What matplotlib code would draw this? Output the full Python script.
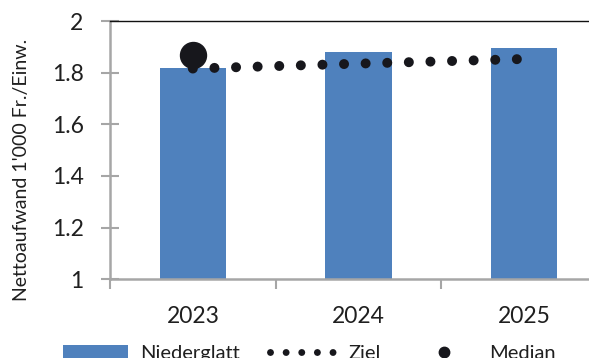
import matplotlib
matplotlib.use("Agg")
import matplotlib.pyplot as plt
from matplotlib.lines import Line2D
from matplotlib.patches import Patch
import numpy as np

# Data
years = ["2023", "2024", "2025"]
niederglatt = [1.818, 1.879, 1.894]
ziel = [1.816, 1.835, 1.853]
median_years = ["2023"]
median_vals = [1.868]
y_ticks = [1, 1.2, 1.4, 1.6, 1.8, 2]
y_tick_labels = ["1", "1.2", "1.4", "1.6", "1.8", "2"]

plt.rcParams["font.family"] = ["Lato", "DejaVu Sans"]

BLUE = "#4F81BD"
DARK = "#17171c"
GREY = "#a6a6a6"
TEXT = "#1f1f1f"

fig = plt.figure(figsize=(5.89, 3.58), dpi=100)
ax = fig.add_axes([110 / 589, 1 - 279.3 / 358, 497 / 589, 258.3 / 358])

x = np.arange(len(years))
ax.bar(x, niederglatt, width=0.4, color=BLUE, zorder=2)

# Target line: round dots along a straight line
ax.plot(x, ziel, color=DARK, lw=7.2, linestyle=(0, (0.001, 2.16)),
        dash_capstyle="round", zorder=4)

# Median marker
mx = [years.index(y) for y in median_years]
ax.plot(mx, median_vals, "o", color=DARK, markersize=18.7, zorder=5,
        linestyle="none")

ax.set_xlim(-0.5, 2.5)
ax.set_ylim(1, 2)

# Y axis
ax.set_yticks(y_ticks)
ax.set_yticklabels(y_tick_labels)
ax.tick_params(axis="y", direction="inout", length=13, width=1.5, color=GREY,
               labelsize=16.5, labelcolor=TEXT, pad=12.5)

# X axis: boundary ticks, labels centred in categories
ax.set_xticks([-0.5, 0.5, 1.5, 2.5])
ax.set_xticklabels([])
ax.set_xticks(x, minor=True)
ax.set_xticklabels(years, minor=True)
ax.tick_params(axis="x", which="major", direction="out", length=7, width=1.5,
               color=GREY)
ax.tick_params(axis="x", which="minor", length=0, labelsize=16.5,
               labelcolor=TEXT, pad=19.5)

for s in ["left", "bottom"]:
    ax.spines[s].set_color(GREY)
    ax.spines[s].set_linewidth(1.8)
ax.spines["right"].set_visible(False)
ax.spines["top"].set_color("#111111")
ax.spines["top"].set_linewidth(1.0)

fig.text(22 / 589, 1 - 170 / 358, "Nettoaufwand 1'000 Fr./Einw.", rotation=90,
         ha="center", va="center", fontsize=14, color=TEXT)

handles = [
    Patch(facecolor=BLUE, edgecolor="none"),
    Line2D([0], [0], color=DARK, lw=5.0, linestyle=(0, (0.001, 2.25)),
           dash_capstyle="round"),
    Line2D([0], [0], color=DARK, marker="o", markersize=7.5, linestyle="none"),
]
labels = ["Niederglatt", "Ziel", "Median"]
fig.legend(handles, labels, loc="center", ncol=3, frameon=False,
           bbox_to_anchor=(309 / 589, 1 - 353.5 / 358), fontsize=14.5,
           handlelength=3.25, handleheight=0.65, handletextpad=0.62,
           columnspacing=1.5, labelcolor=TEXT)

fig.savefig("out.png", dpi=100)
